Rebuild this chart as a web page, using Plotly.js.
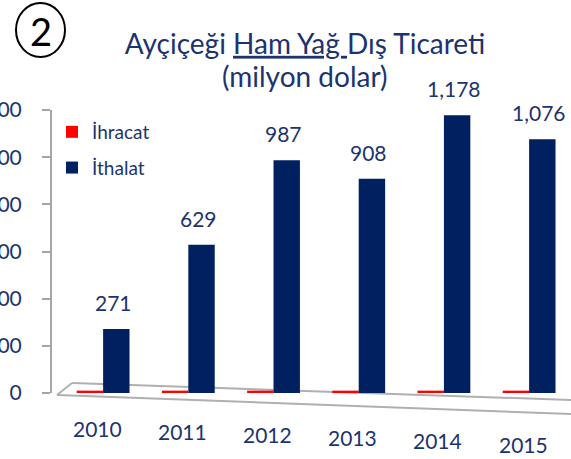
<!DOCTYPE html>
<html>
<head>
<meta charset="utf-8">
<script src="https://cdn.plot.ly/plotly-3.0.1.min.js"></script>
<style>html,body{margin:0;padding:0;background:#fff;}#chart{width:571px;height:459px;}</style>
</head>
<body>
<div id="chart"></div>
<script>
// ---- data ----
const years = ['2010', '2011', '2012', '2013', '2014', '2015'];
const ihracat = [10, 10, 10, 10, 10, 10];          // near-zero exports
const ithalat = [271, 629, 987, 908, 1178, 1076];   // imports (million USD)
const seriesNames = ['İhracat', 'İthalat'];
const yTicks = [0, 200, 400, 600, 800, 1000, 1200];
const titleLine1 = 'Ayçiçeği <u>Ham Yağ </u>Dış Ticareti';
const titleLine2 = '(milyon dolar)';

// ---- layout helpers ----
const W = 571, H = 459, L = 52, R = 0, T = 110, B = 66;
const pw = W - L - R, ph = H - T - B;
const px = x => (x - L) / pw;
const py = y => (H - B - y) / ph;
const navy = '#002060';
const txt = '#1c3370';
const FONT = 'Lato, "Open Sans", sans-serif';

const traces = [
  {type: 'bar', name: seriesNames[0], x: years, y: ihracat, legendgroup: 'a',
   marker: {color: '#ff0000'}, hoverinfo: 'skip'},
  {type: 'bar', name: seriesNames[1], x: years, y: ithalat, legendgroup: 'b',
   marker: {color: navy}, hoverinfo: 'skip'}
];

const annotations = [];
// data labels above import bars (x = category index)
ithalat.forEach((v, i) => {
  annotations.push({x: i, y: v, xref: 'x', yref: 'y', text: v.toLocaleString('en-US'),
    showarrow: false, yanchor: 'bottom', yshift: 12, xshift: 10,
    font: {family: FONT, size: 21, color: txt}});
});
// staggered category labels (perspective)
years.forEach((yr, i) => {
  annotations.push({x: i, y: 0, xref: 'x', yref: 'y', text: yr, showarrow: false,
    yanchor: 'middle', yshift: -35 - i * 3.2, xshift: -6,
    font: {family: FONT, size: 21, color: txt}});
});
// second title line
annotations.push({x: px(305), y: py(76), xref: 'paper', yref: 'paper', text: titleLine2,
  showarrow: false, xanchor: 'center', yanchor: 'middle',
  font: {family: FONT, size: 28, color: txt}});
// circled number
annotations.push({x: px(40.5), y: py(31), xref: 'paper', yref: 'paper', text: '2',
  showarrow: false, xanchor: 'center', yanchor: 'middle',
  font: {family: FONT, size: 38, color: '#000'}});

const shapes = [
  {type: 'circle', xref: 'paper', yref: 'paper', x0: px(16), x1: px(65), y0: py(57), y1: py(3),
   line: {color: '#000', width: 2}},
  // 3D floor outline (decorative)
  {type: 'line', xref: 'paper', yref: 'paper', x0: px(72), y0: py(383), x1: px(571), y1: py(400),
   line: {color: '#b0b0b0', width: 2}, layer: 'below'},
  {type: 'line', xref: 'paper', yref: 'paper', x0: px(57), y0: py(395), x1: px(571), y1: py(414),
   line: {color: '#b0b0b0', width: 2}, layer: 'below'},
  {type: 'line', xref: 'paper', yref: 'paper', x0: px(57), y0: py(395), x1: px(72), y1: py(383),
   line: {color: '#b0b0b0', width: 2}, layer: 'below'}
];

const layout = {
  width: W, height: H,
  margin: {l: L, r: R, t: T, b: B, pad: 0},
  paper_bgcolor: '#fff', plot_bgcolor: 'rgba(0,0,0,0)',
  font: {family: FONT, color: txt},
  title: {text: titleLine1,
    font: {family: FONT, size: 28, color: txt},
    x: 305 / W, xanchor: 'center', y: 1 - 44 / H, yanchor: 'middle', xref: 'container', yref: 'container'},
  barmode: 'group', bargap: 0.38, bargroupgap: 0.0,
  showlegend: true,
  legend: {x: px(52), y: py(113), xanchor: 'left', yanchor: 'top', xref: 'paper', yref: 'paper',
    bgcolor: 'rgba(0,0,0,0)', font: {family: FONT, size: 19, color: txt},
    traceorder: 'grouped', tracegroupgap: 8},
  xaxis: {type: 'category', range: [-0.6, (W - L - R) / 85.2 - 0.6], showticklabels: false,
    showline: false, showgrid: false, zeroline: false, ticks: ''},
  yaxis: {range: [0, 1200], tickvals: yTicks, tickformat: ',d', showgrid: false, zeroline: false,
    showline: true, linecolor: '#a6a6a6', linewidth: 2, ticks: 'outside', ticklen: 8,
    tickcolor: '#a6a6a6', tickwidth: 2, ticklabelstandoff: 16,
    tickfont: {family: FONT, size: 21, color: txt}},
  annotations: annotations,
  shapes: shapes
};

Plotly.newPlot('chart', traces, layout, {staticPlot: true, displayModeBar: false});
</script>
</body>
</html>
